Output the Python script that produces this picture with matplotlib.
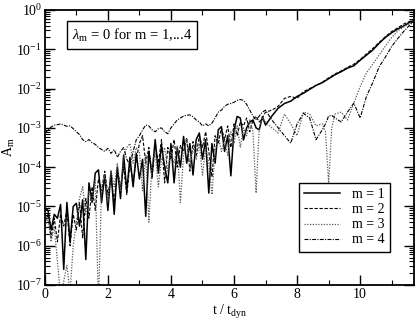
import matplotlib
matplotlib.use("Agg")
import matplotlib.pyplot as plt
import numpy as np
from matplotlib.ticker import LogLocator, MultipleLocator, NullFormatter

plt.rcParams["font.family"] = ["Liberation Serif", "DejaVu Serif"]
plt.rcParams["mathtext.fontset"] = "custom"
plt.rcParams["mathtext.rm"] = "Liberation Serif"
plt.rcParams["mathtext.it"] = "Liberation Serif:italic"

# time in units of t_dyn (shared by all modes)
t_dyn = [
    0.0, 0.1, 0.2, 0.3, 0.4, 0.5, 0.6, 0.7, 0.8, 0.9,
    1.0, 1.1, 1.2, 1.3, 1.4, 1.5, 1.6, 1.7, 1.8, 1.9,
    2.0, 2.1, 2.2, 2.3, 2.4, 2.5, 2.6, 2.7, 2.8, 2.9,
    3.0, 3.1, 3.2, 3.3, 3.4, 3.5, 3.6, 3.7, 3.8, 3.9,
    4.0, 4.1, 4.2, 4.3, 4.4, 4.5, 4.6, 4.7, 4.8, 4.9,
    5.0, 5.1, 5.2, 5.3, 5.4, 5.5, 5.6, 5.7, 5.8, 5.9,
    6.0, 6.1, 6.2, 6.3, 6.4, 6.5, 6.6, 6.7, 6.8, 6.9,
    7.0, 7.2, 7.4, 7.6, 7.8, 8.0, 8.2, 8.4, 8.6, 8.8,
    8.9, 9.0, 9.1, 9.2, 9.4, 9.6, 9.8, 10.0, 10.2, 10.4,
    10.6, 10.8, 11.0, 11.2, 11.4, 11.6, 11.7,
]

# log10(A_m)
log_a_m1 = [
    -5.05, -5.1, -5.6, -5.2, -5.3, -4.95, -6.6, -4.9, -5.9, -5.0,
    -4.92, -5.5, -4.83, -6.35, -4.4, -4.9, -4.15, -4.07, -4.9, -4.2,
    -5.1, -4.1, -5.2, -4.0, -4.8, -3.7, -4.6, -3.75, -4.5, -3.65,
    -4.3, -3.8, -5.25, -3.6, -4.2, -3.3, -4.15, -3.45, -4.0, -4.4,
    -3.4, -4.4, -3.5, -4.0, -3.22, -3.9, -3.4, -4.2, -3.3, -3.13,
    -3.8, -3.3, -4.66, -3.4, -3.9, -3.05, -2.97, -3.6, -3.2, -4.22,
    -3.05, -2.71, -2.75, -3.31, -3.0, -2.85, -2.8, -3.0, -3.05, -2.72,
    -2.93, -2.7, -2.5, -2.38, -2.32, -2.2, -2.12, -2.02, -1.92, -1.85,
    -1.8, -1.75, -1.7, -1.65, -1.57, -1.48, -1.42, -1.28, -1.15, -1.02,
    -0.85, -0.7, -0.58, -0.48, -0.4, -0.3, -0.27,
]
log_a_m2 = [
    -5.4, -5.2, -5.8, -5.3, -5.9, -5.2, -5.5, -5.1, -6.0, -5.2,
    -5.6, -4.9, -5.8, -4.8, -5.3, -4.5, -5.1, -4.3, -4.6, -4.1,
    -4.7, -4.25, -4.9, -4.05, -4.5, -4.0, -4.7, -3.9, -4.4, -3.8,
    -3.4, -3.2, -3.9, -3.5, -4.3, -3.4, -3.9, -3.3, -4.4, -3.5,
    -3.8, -3.3, -4.0, -3.45, -3.6, -3.25, -4.1, -3.35, -3.7, -3.2,
    -3.5, -3.1, -3.6, -4.25, -3.2, -3.4, -3.0, -3.3, -2.95, -3.5,
    -2.9, -3.2, -2.85, -2.95, -2.75, -3.1, -2.8, -2.7, -2.85, -2.75,
    -2.6, -2.55, -2.45, -2.25, -2.2, -2.25, -2.08, -2.0, -1.92, -1.84,
    -1.78, -1.73, -1.68, -1.63, -1.55, -1.46, -1.38, -1.26, -1.12, -0.98,
    -0.83, -0.68, -0.55, -0.45, -0.35, -0.28, -0.25,
]
log_a_m3 = [
    -5.5, -5.3, -5.9, -5.5, -6.4, -7.3, -6.9, -6.5, -7.2, -6.0,
    -5.4, -4.8, -4.5, -5.2, -4.6, -4.9, -4.3, -7.5, -4.5, -4.2,
    -4.9, -4.1, -4.5, -3.9, -4.6, -3.7, -3.5, -3.4, -3.9, -3.5,
    -3.6, -4.6, -3.7, -5.4, -3.9, -3.6, -4.5, -3.8, -3.5, -4.1,
    -3.6, -3.9, -3.45, -4.9, -3.7, -3.3, -4.0, -3.5, -3.8, -3.4,
    -4.2, -3.5, -3.9, -4.7, -3.6, -3.2, -3.6, -3.3, -3.7, -3.1,
    -3.4, -2.95, -3.5, -3.0, -3.2, -2.8, -3.1, -4.66, -3.0, -2.75,
    -2.85, -3.0, -3.13, -2.65, -2.9, -3.2, -2.6, -2.65, -2.95, -2.9,
    -3.1, -4.4, -3.0, -2.65, -2.6, -2.8, -2.37, -1.95, -1.6, -1.38,
    -1.15, -0.92, -0.7, -0.53, -0.42, -0.33, -0.3,
]
log_a_m4 = [
    -3.15, -3.05, -2.98, -2.93, -2.92, -2.9, -2.93, -2.96, -2.95, -3.02,
    -3.1, -3.17, -3.3, -3.35, -3.3, -3.38, -3.42, -3.5, -3.55, -3.6,
    -3.52, -3.65, -3.55, -3.75, -3.6, -3.5, -3.8, -3.95, -3.6, -3.3,
    -3.2, -3.05, -2.93, -2.95, -3.05, -3.1, -3.02, -3.0, -3.1, -3.15,
    -3.0, -2.9, -2.8, -2.75, -2.7, -2.68, -2.67, -2.72, -2.8, -2.85,
    -2.95, -2.9, -2.95, -2.88, -2.75, -2.6, -2.55, -2.45, -2.4, -2.38,
    -2.35, -2.3, -2.28, -2.3, -2.4, -2.55, -2.7, -2.8, -2.7, -2.6,
    -2.55, -2.8, -3.0, -3.2, -3.39, -2.9, -2.63, -2.75, -3.3, -3.05,
    -2.9, -2.7, -2.68, -2.75, -2.85, -2.6, -2.37, -2.75, -2.2, -1.85,
    -1.45, -1.2, -0.93, -0.72, -0.53, -0.36, -0.31,
]

mode_labels = ["m = 1", "m = 2", "m = 3", "m = 4"]
y_major = [1e-7, 1e-6, 1e-5, 1e-4, 1e-3, 1e-2, 1e-1, 1e0]

fig = plt.figure(figsize=(4.15, 3.21), dpi=100)
ax = fig.add_axes([0.108, 0.112, 0.889, 0.857])

t = np.array(t_dyn)
styles = [
    dict(color="black", linestyle="-", linewidth=1.1),
    dict(color="black", linestyle=(0, (3.0, 1.5)), linewidth=0.8),
    dict(color="0.35", linestyle=(0, (1.0, 1.2)), linewidth=0.9),
    dict(color="black", linestyle=(0, (3.5, 1.2, 1.0, 1.2)), linewidth=0.8),
]
for series, label, st in zip([log_a_m1, log_a_m2, log_a_m3, log_a_m4], mode_labels, styles):
    ax.plot(t, 10.0 ** np.array(series), label=label, **st)

ax.set_yscale("log")
ax.set_xlim(0, 11.7)
ax.set_ylim(1e-7, 1.0)

ax.xaxis.set_major_locator(MultipleLocator(2))
ax.xaxis.set_minor_locator(MultipleLocator(1))
ax.set_yticks(y_major)
ax.yaxis.set_minor_locator(LogLocator(base=10, subs=np.arange(2, 10), numticks=10))
ax.yaxis.set_minor_formatter(NullFormatter())

ax.tick_params(which="both", direction="in", top=True, right=True, labelsize=10, pad=2)
ax.tick_params(which="major", length=7, width=1.0)
ax.tick_params(which="minor", length=3.5, width=0.8)
for sp in ax.spines.values():
    sp.set_linewidth(1.3)

ax.set_xlabel(r"t / t$_{\mathrm{dyn}}$", fontsize=10)
ax.xaxis.set_label_coords(0.5, -0.065)
ax.set_ylabel(r"A$_{\mathrm{m}}$", fontsize=10)
ax.yaxis.set_label_coords(-0.075, 0.5)

ax.text(0.236, 0.909, r"$\lambda_{\mathrm{m}}$ = 0 for m = 1,...4", transform=ax.transAxes,
        ha="center", va="center", fontsize=10.5,
        bbox=dict(boxstyle="square,pad=0.35", facecolor="white", edgecolor="black", linewidth=1.0))

leg = ax.legend(loc="lower right", bbox_to_anchor=(0.935, 0.12), fontsize=10,
                frameon=True, fancybox=False, edgecolor="black", framealpha=1.0,
                handlelength=2.6, handletextpad=0.8, borderpad=0.4, labelspacing=0.15,
                borderaxespad=0.0)
leg.get_frame().set_linewidth(1.0)

fig.savefig("out.png", dpi=100)
